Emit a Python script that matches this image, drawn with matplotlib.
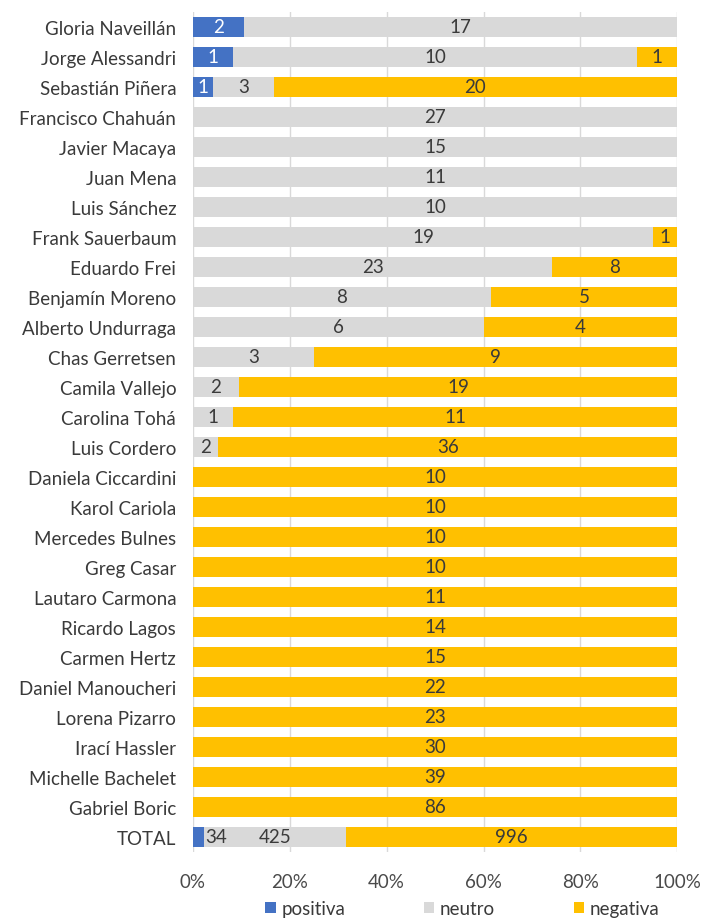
import numpy as np
import matplotlib
matplotlib.use("Agg")
import matplotlib.pyplot as plt

plt.rcParams['font.family'] = ['Lato', 'DejaVu Sans']

names = ["Gloria Naveillán", "Jorge Alessandri", "Sebastián Piñera", "Francisco Chahuán",
         "Javier Macaya", "Juan Mena", "Luis Sánchez", "Frank Sauerbaum", "Eduardo Frei",
         "Benjamín Moreno", "Alberto Undurraga", "Chas Gerretsen", "Camila Vallejo",
         "Carolina Tohá", "Luis Cordero", "Daniela Ciccardini", "Karol Cariola",
         "Mercedes Bulnes", "Greg Casar", "Lautaro Carmona", "Ricardo Lagos", "Carmen Hertz",
         "Daniel Manoucheri", "Lorena Pizarro", "Irací Hassler", "Michelle Bachelet",
         "Gabriel Boric", "TOTAL"]
positiva = [2, 1, 1, 0, 0, 0, 0, 0, 0, 0, 0, 0, 0, 0, 0, 0, 0, 0, 0, 0, 0, 0, 0, 0, 0, 0, 0, 34]
neutro = [17, 10, 3, 27, 15, 11, 10, 19, 23, 8, 6, 3, 2, 1, 2, 0, 0, 0, 0, 0, 0, 0, 0, 0, 0, 0, 0, 425]
negativa = [0, 1, 20, 0, 0, 0, 0, 1, 8, 5, 4, 9, 19, 11, 36, 10, 10, 10, 10, 11, 14, 15, 22, 23, 30, 39, 86, 996]

colors = {"positiva": "#4472C4", "neutro": "#D9D9D9", "negativa": "#FFC000"}
txt_colors = {"positiva": "white", "neutro": "#3a3a3a", "negativa": "#3a3a3a"}

pos = np.array(positiva, float)
neu = np.array(neutro, float)
neg = np.array(negativa, float)
tot = pos + neu + neg
y = np.arange(len(names))

fig = plt.figure(figsize=(7.04, 9.2), dpi=100)
ax = fig.add_axes([0.274, 0.073, 0.688, 0.913])

FS = 13.5
left = np.zeros(len(names))
for key, vals in [("positiva", pos), ("neutro", neu), ("negativa", neg)]:
    share = vals / tot
    ax.barh(y, share, left=left, height=0.66, color=colors[key], label=key, zorder=2)
    for i in range(len(names)):
        if vals[i] > 0:
            if names[i] == "TOTAL" and key == "positiva":
                # too narrow: label sits just right of the segment
                ax.text(left[i] + share[i] + 0.002, y[i], str(int(vals[i])), ha="left",
                        va="center", fontsize=FS, color="#3a3a3a", zorder=3)
                continue
            ax.text(left[i] + share[i] / 2, y[i], str(int(vals[i])), ha="center", va="center",
                    fontsize=FS, color=txt_colors[key], zorder=3)
    left = left + share

ax.set_ylim(len(names) - 0.5, -0.5)
ax.set_xlim(0, 1)
ax.set_yticks(y)
ax.set_yticklabels(names, fontsize=FS, color="#3a3a3a")
ax.set_xticks(np.linspace(0, 1, 6))
ax.set_xticklabels([f"{int(v)}%" for v in np.linspace(0, 100, 6)], fontsize=FS, color="#4a4a4a")
ax.tick_params(axis="both", length=0)
ax.tick_params(axis="x", pad=15)
ax.tick_params(axis="y", pad=12)
ax.grid(axis="x", color="#D9D9D9", linewidth=1, zorder=0)
for s in ax.spines.values():
    s.set_visible(False)

fig.legend(loc="center", bbox_to_anchor=(0.657, 0.011), ncol=3, frameon=False,
           fontsize=FS, handlelength=0.55, handleheight=0.55, columnspacing=4.2,
           handletextpad=0.3, labelcolor="#3a3a3a")

fig.savefig("out.png", dpi=100)
